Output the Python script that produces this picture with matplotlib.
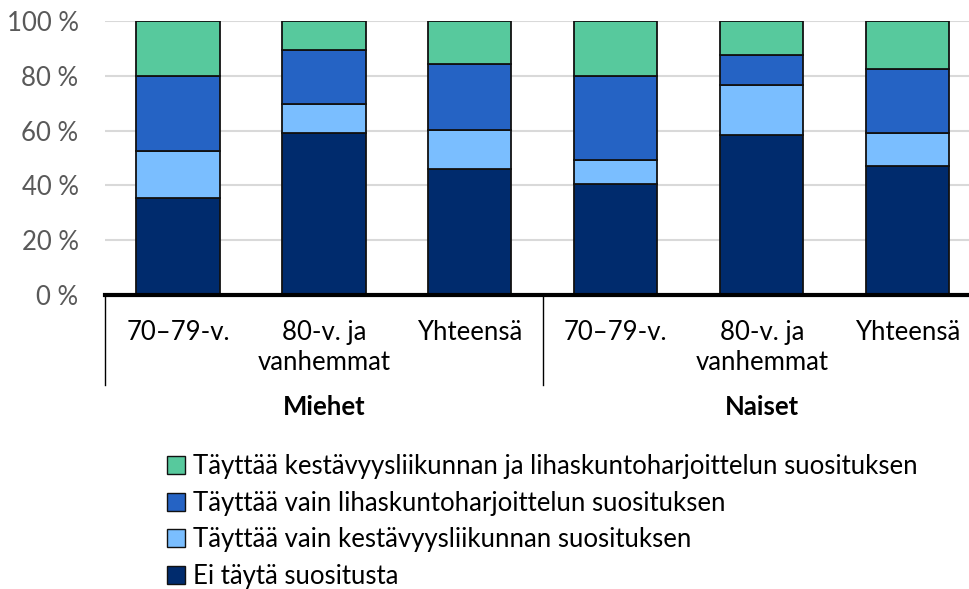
import matplotlib
matplotlib.use("Agg")
import matplotlib.pyplot as plt
from matplotlib.patches import Patch
import matplotlib.transforms as mtransforms
import numpy as np

plt.rcParams['font.family'] = ['Lato', 'DejaVu Sans']

categories = ["70–79-v.", "80-v. ja\nvanhemmat", "Yhteensä",
              "70–79-v.", "80-v. ja\nvanhemmat", "Yhteensä"]
groups = ["Miehet", "Naiset"]
series_names = ["Ei täytä suositusta",
                "Täyttää vain kestävyysliikunnan suosituksen",
                "Täyttää vain lihaskuntoharjoittelun suosituksen",
                "Täyttää kestävyysliikunnan ja lihaskuntoharjoittelun suosituksen"]
ei_tayta = [35.5, 59.1, 46.0, 40.6, 58.4, 47.2]
vain_kestavyys = [17.2, 10.5, 14.2, 8.8, 18.4, 12.0]
vain_lihas = [27.3, 19.8, 24.1, 30.5, 10.9, 23.4]
molemmat = [20.0, 10.6, 15.7, 20.1, 12.3, 17.4]
yticks = [0, 20, 40, 60, 80, 100]
ytick_labels = ["0 %", "20 %", "40 %", "60 %", "80 %", "100 %"]

colors = ["#002B6D", "#7ABEFF", "#2563C4", "#57C99D"]
series = [ei_tayta, vain_kestavyys, vain_lihas, molemmat]

W, H = 969, 589
fig = plt.figure(figsize=(W / 100, H / 100), dpi=100)
ax = fig.add_axes([105 / W, (H - 295) / H, (969 - 105) / W, (295 - 21) / H])

x = np.arange(len(categories))
bottom = np.zeros(len(categories))
for vals, c in zip(series, colors):
    ax.bar(x, vals, bottom=bottom, width=0.57, color=c, edgecolor="#111111",
           linewidth=1.3, zorder=3)
    bottom += np.array(vals)

ax.set_ylim(0, 100)
ax.set_xlim(-0.5, 5.42)
ax.set_yticks(yticks)
ax.set_yticklabels(ytick_labels, fontsize=18.5, color="#595959")
ax.yaxis.grid(True, color="#d9d9d9", linewidth=1.5, zorder=0)
ax.tick_params(axis="y", length=0, pad=19)
ax.set_xticks(x)
ax.set_xticklabels(categories, fontsize=18.5, color="black", linespacing=1.25)
ax.tick_params(axis="x", length=0, pad=18)
for s in ["top", "right", "left"]:
    ax.spines[s].set_visible(False)
ax.spines["bottom"].set_linewidth(3)
ax.spines["bottom"].set_color("black")
ax.spines["bottom"].set_zorder(5)

trans = mtransforms.blended_transform_factory(ax.transData, ax.transAxes)
for xv in [-0.5, 2.5]:
    ax.plot([xv, xv], [0, -0.33], transform=trans, color="black",
            linewidth=1, clip_on=False)
for gx, g in zip([1, 4], groups):
    ax.text(gx, -0.41, g, transform=trans, ha="center", va="center",
            fontsize=18.5, fontweight="bold")

handles = [Patch(facecolor=c, edgecolor="#111111", linewidth=1)
           for c in colors[::-1]]
fig.legend(handles, series_names[::-1], loc="upper left",
           bbox_to_anchor=(157 / W, 1 - 444 / H), frameon=False,
           fontsize=18.5, handlelength=0.7, handleheight=0.7,
           handletextpad=0.3, labelspacing=0.45, borderaxespad=0)

fig.savefig("out.png", dpi=100)
